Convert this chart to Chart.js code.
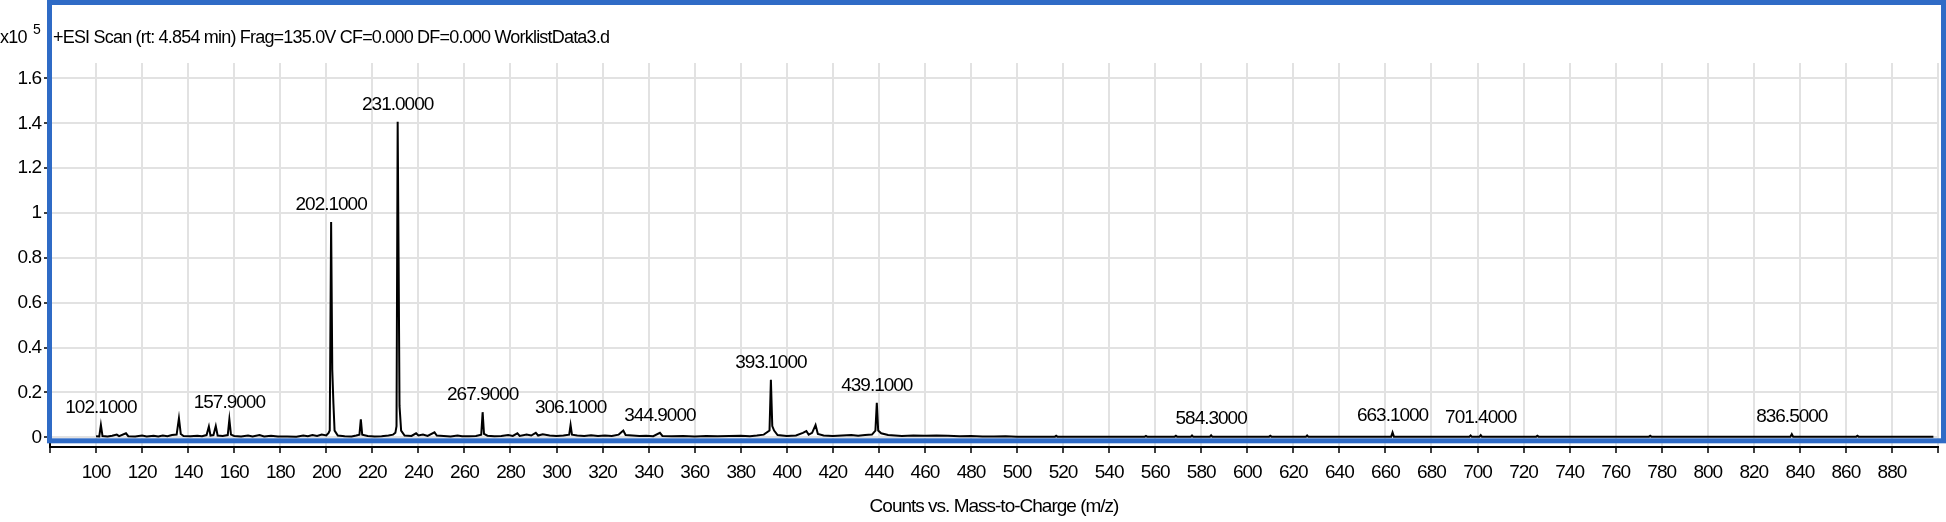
<!DOCTYPE html>
<html>
<head>
<meta charset="utf-8">
<script src="https://cdn.jsdelivr.net/npm/chart.js@4.4.1/dist/chart.umd.min.js"></script>
<style>
  html, body { margin: 0; padding: 0; background: #ffffff; }
  #c { display: block; }
</style>
</head>
<body>
<canvas id="c" width="1946" height="522"></canvas>
<script>
// ---- data (intensity in units of x10^5 counts) ----
const mz = [
  100, 101.4, 102.1, 102.8, 105, 107, 109, 110, 113, 114, 117, 120, 122, 125, 127, 129, 131, 133, 135, 136, 136.8, 138,
  141, 144, 146, 148, 149, 149.7, 151, 152, 152.8, 155, 157.2, 157.9, 158.6, 160, 163, 166, 168, 171, 173, 176, 179,
  183, 187, 190, 192, 194, 196, 198, 200, 201, 201.5, 202.1, 202.6, 203.1, 203.6, 205, 208, 211, 213, 214.4, 215.0,
  215.6, 218, 221, 224, 227, 229, 230, 230.5, 231.0, 231.4, 231.8, 232.5, 234, 237, 239, 240, 242, 244, 247, 248,
  251, 254, 257, 259, 262, 265, 267.3, 267.9, 268.5, 270, 273, 276, 279, 281, 283, 284, 287, 289, 291, 292, 294,
  297, 300, 303, 305.5, 306.1, 306.7, 309, 312, 315, 318, 321, 324, 327, 329, 330, 333, 336, 339, 342, 344.9, 346,
  350, 355, 360, 365, 370, 375, 380, 384, 387, 390, 392.5, 393.1, 393.7, 394.5, 396, 400, 404, 407, 408.5, 409.5,
  411, 412.5, 413.5, 416, 420, 424, 428, 431, 434, 437, 438.5, 439.1, 439.7, 441, 444, 447, 450, 455, 460, 465,
  470, 475, 480, 485, 490, 495, 500, 510, 516.5, 517, 517.5, 530, 540, 550, 555.5, 556, 556.5, 568.5, 569, 569.5,
  575.5, 576, 576.5, 583.8, 584.3, 584.8, 596, 605, 609.5, 610, 610.5, 620, 625.5, 626, 626.5, 640, 650, 662.5, 663.1,
  663.7, 670, 680, 690, 696.5, 697, 697.5, 700.9, 701.4, 701.9, 712, 725.5, 726, 726.5, 745, 760, 774.5, 775, 775.5,
  790, 800, 810, 820, 835.9, 836.5, 837.1, 850, 864.5, 865, 865.5, 880, 890, 898
];
const intensity = [
  0.005, 0.004, 0.055, 0.006, 0.004, 0.007, 0.012, 0.005, 0.018, 0.005, 0.004, 0.008, 0.004, 0.007, 0.004, 0.008, 0.005, 0.010, 0.012, 0.085, 0.015, 0.006,
  0.005, 0.007, 0.005, 0.010, 0.048, 0.008, 0.010, 0.050, 0.008, 0.006, 0.010, 0.080, 0.012, 0.006, 0.004, 0.008, 0.004, 0.010, 0.004, 0.007, 0.004,
  0.004, 0.003, 0.008, 0.005, 0.010, 0.006, 0.012, 0.008, 0.020, 0.030, 0.960, 0.300, 0.150, 0.030, 0.008, 0.005, 0.004, 0.008, 0.012, 0.080,
  0.012, 0.006, 0.004, 0.005, 0.008, 0.012, 0.020, 0.050, 1.407, 0.800, 0.140, 0.030, 0.008, 0.006, 0.018, 0.008, 0.012, 0.006, 0.022, 0.008,
  0.006, 0.004, 0.008, 0.005, 0.005, 0.006, 0.012, 0.112, 0.015, 0.007, 0.005, 0.006, 0.010, 0.006, 0.018, 0.006, 0.012, 0.008, 0.020, 0.008, 0.014,
  0.008, 0.006, 0.008, 0.012, 0.055, 0.012, 0.008, 0.006, 0.009, 0.006, 0.008, 0.006, 0.012, 0.030, 0.010, 0.008, 0.006, 0.007, 0.005, 0.020, 0.006,
  0.005, 0.006, 0.004, 0.006, 0.005, 0.006, 0.007, 0.005, 0.008, 0.012, 0.030, 0.257, 0.050, 0.030, 0.010, 0.006, 0.008, 0.020, 0.028, 0.012,
  0.020, 0.055, 0.015, 0.008, 0.006, 0.008, 0.010, 0.007, 0.010, 0.012, 0.030, 0.154, 0.030, 0.018, 0.010, 0.008, 0.006, 0.008, 0.007, 0.008,
  0.007, 0.005, 0.006, 0.004, 0.004, 0.005, 0.003, 0.003, 0.003, 0.007, 0.003, 0.003, 0.003, 0.003, 0.003, 0.006, 0.003, 0.003, 0.007, 0.003,
  0.003, 0.008, 0.003, 0.003, 0.009, 0.003, 0.003, 0.003, 0.003, 0.007, 0.003, 0.003, 0.003, 0.008, 0.003, 0.003, 0.003, 0.003, 0.022,
  0.003, 0.003, 0.003, 0.003, 0.003, 0.008, 0.003, 0.003, 0.010, 0.003, 0.003, 0.003, 0.007, 0.003, 0.003, 0.003, 0.003, 0.007, 0.003,
  0.003, 0.003, 0.003, 0.003, 0.003, 0.014, 0.003, 0.003, 0.003, 0.007, 0.003, 0.003, 0.003, 0.003
];
const peakLabels = ['102.1000', '157.9000', '202.1000', '231.0000', '267.9000', '306.1000', '344.9000',
                    '393.1000', '439.1000', '584.3000', '663.1000', '701.4000', '836.5000'];
const peakMz  = [102.1, 157.9, 202.1, 231.0, 267.9, 306.1, 344.9, 393.1, 439.1, 584.3, 663.1, 701.4, 836.5];
const peakTop = [0.055, 0.080, 0.960, 1.407, 0.112, 0.055, 0.020, 0.257, 0.154, 0.008, 0.022, 0.010, 0.015];
const yTickValues = [0, 0.2, 0.4, 0.6, 0.8, 1, 1.2, 1.4, 1.6];
const scanTitle = '+ESI Scan (rt: 4.854 min) Frag=135.0V CF=0.000 DF=0.000 WorklistData3.d';
const xAxisTitle = 'Counts vs. Mass-to-Charge (m/z)';
const yExponentBase = 'x10';
const yExponent = '5';

// ---- rendering ----
const FONT = '"Liberation Sans", Arial, sans-serif';
const FS = 19;
const SPACING = '-1px';

function tighten(chart) {
  if ('letterSpacing' in chart.ctx) chart.ctx.letterSpacing = SPACING;
}

const decor = {
  id: 'decor',
  beforeUpdate: tighten,
  beforeLayout: tighten,
  beforeDraw: tighten,
  afterDraw(chart) {
    const { ctx, chartArea, scales: { x, y } } = chart;
    ctx.save();
    tighten(chart);
    // blue frame
    const top = 2.5;
    const left = chartArea.left - 0.5;
    const right = chart.width - 2.5;
    const bottom = y.getPixelForValue(0) + 3.5;
    ctx.strokeStyle = '#2f6bc6';
    ctx.lineWidth = 5;
    ctx.strokeRect(left, top, right - left, bottom - top);
    // peak annotations
    ctx.fillStyle = '#000';
    ctx.font = FS + 'px ' + FONT;
    ctx.textAlign = 'center';
    ctx.textBaseline = 'middle';
    peakLabels.forEach((t, i) => {
      ctx.fillText(t, x.getPixelForValue(peakMz[i]), y.getPixelForValue(peakTop[i]) - 17);
    });
    // scan title
    ctx.font = '18px ' + FONT;
    if ('letterSpacing' in ctx) ctx.letterSpacing = '-0.8px';
    ctx.textAlign = 'left';
    ctx.textBaseline = 'alphabetic';
    ctx.fillText(scanTitle, chartArea.left + 3, 43);
    // exponent label
    ctx.fillText(yExponentBase, 0, 43);
    ctx.font = '14px ' + FONT;
    ctx.fillText(yExponent, 33, 34);
    ctx.restore();
  }
};

new Chart(document.getElementById('c'), {
  type: 'line',
  data: {
    datasets: [{
      data: mz.map((m, i) => ({ x: m, y: intensity[i] })),
      borderColor: '#000000',
      borderWidth: 2,
      pointRadius: 0,
      tension: 0,
      fill: false
    }]
  },
  options: {
    responsive: false,
    animation: false,
    devicePixelRatio: 1,
    layout: { padding: { top: 63, right: 6, left: 0, bottom: 0 } },
    plugins: { legend: { display: false }, tooltip: { enabled: false }, title: { display: false } },
    scales: {
      x: {
        type: 'linear',
        min: 80,
        max: 900,
        ticks: {
          stepSize: 20,
          autoSkip: false,
          maxRotation: 0,
          padding: 8,
          color: '#000',
          font: { family: FONT, size: FS },
          callback: (v) => (v === 80 || v === 900) ? '' : String(v)
        },
        grid: { color: '#e2e2e2', lineWidth: 2, tickColor: '#000', tickLength: 6, tickWidth: 1.5 },
        border: { color: '#000', width: 2 },
        title: {
          display: true,
          text: xAxisTitle,
          color: '#000',
          font: { family: FONT, size: FS },
          padding: { top: 10, bottom: 4 }
        },
        afterFit: (s) => { s.height = 75; }
      },
      y: {
        min: -0.0432,
        max: 1.6687,
        afterBuildTicks: (s) => { s.ticks = yTickValues.map(v => ({ value: v })); },
        ticks: {
          padding: 3,
          color: '#000',
          font: { family: FONT, size: FS },
          callback: (v) => String(Number(v.toFixed(1)))
        },
        grid: { color: '#e2e2e2', lineWidth: 2, tickColor: '#000', tickLength: 6, tickWidth: 1.5 },
        border: { color: '#000', width: 2 },
        afterFit: (s) => { s.width = 50; }
      }
    }
  },
  plugins: [decor]
});
</script>
</body>
</html>
